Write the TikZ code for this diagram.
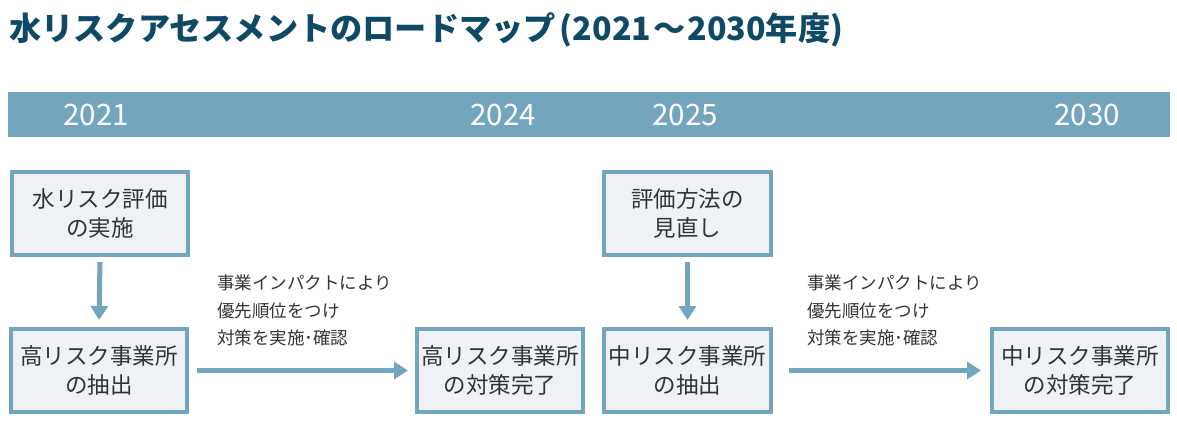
\documentclass[tikz,border=0pt]{standalone}
\usepackage{fontspec}
\setmainfont{Noto Sans CJK JP}
\usetikzlibrary{arrows.meta}
\definecolor{barc}{HTML}{74A5BE}
\definecolor{boxfill}{HTML}{EEF2F6}
\definecolor{txt}{HTML}{333333}
\definecolor{titlec}{HTML}{0E4A66}
\begin{document}
\begin{tikzpicture}[x=1pt,y=-1pt,
  stepbox/.style={draw=barc,line width=4pt,fill=boxfill,text=txt,minimum height=83pt,
    align=center,font=\fontsize{22.5}{29}\selectfont,inner sep=0pt},
  flow/.style={draw=barc,line width=5pt,-{Triangle[width=17pt,length=14pt]}},
  yr/.style={text=white,font=\fontsize{29.5}{32}\selectfont},
  note/.style={text=txt,font=\fontsize{17.5}{27.5}\selectfont,align=left,anchor=north west,inner sep=0pt}]
\useasboundingbox (0,0) rectangle (1177,425);
\node[anchor=west,text=titlec,font=\fontsize{32.2}{36}\selectfont\bfseries,inner sep=0pt] (title) at (9,30) {水リスクアセスメントのロードマップ\kern4pt(2021\kern2pt～\kern2pt2030年度)};
\fill[barc] (8,92) rectangle (1170,137);
\node[yr] (y1) at (96,114.5) {2021};
\node[yr] (y2) at (503,114.5) {2024};
\node[yr] (y3) at (685,114.5) {2025};
\node[yr] (y4) at (1087,114.5) {2030};
\node[stepbox,minimum width=176pt] (b1) at (100,213.5) {水リスク評価\\の実施};
\node[stepbox,minimum width=176pt] (b2) at (99,370.5) {高リスク事業所\\の抽出};
\node[stepbox,minimum width=166pt] (b3) at (500,370.5) {高リスク事業所\\の対策完了};
\node[stepbox,minimum width=167pt] (b4) at (687.5,213.5) {評価方法の\\見直し};
\node[stepbox,minimum width=167pt] (b5) at (687.5,370.5) {中リスク事業所\\の抽出};
\node[stepbox,minimum width=176pt] (b6) at (1080,370.5) {中リスク事業所\\の対策完了};
\draw[flow,shorten <=5pt,shorten >=7pt] (b1.south) -- (b2.north);
\draw[flow,shorten <=5pt,shorten >=7pt] (b4.south) -- (b5.north);
\draw[flow,shorten <=8pt,shorten >=7pt] (b2.east) -- (b3.west);
\draw[flow,shorten <=16pt,shorten >=9pt] (b5.east) -- (b6.west);
\node[note] (n1) at (217,275) {事業インパクトにより\\優先順位をつけ\\対策を実施･確認};
\node[note] (n2) at (807,275) {事業インパクトにより\\優先順位をつけ\\対策を実施･確認};
\end{tikzpicture}
\end{document}
